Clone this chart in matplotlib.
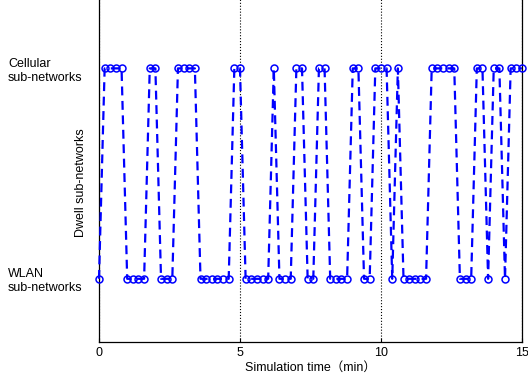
#!/usr/bin/env python3
# Filename: dwellPlot.py

##################
### Parameters ###
##################

outfile = "out.png"

## Sampling instants (min), one every 0.2 min
sim_time = [0.0, 0.2, 0.4, 0.6, 0.8, 1.0, 1.2, 1.4, 1.6, 1.8,
            2.0, 2.2, 2.4, 2.6, 2.8, 3.0, 3.2, 3.4, 3.6, 3.8,
            4.0, 4.2, 4.4, 4.6, 4.8, 5.0, 5.2, 5.4, 5.6, 5.8,
            6.0, 6.2, 6.4, 6.6, 6.8, 7.0, 7.2, 7.4, 7.6, 7.8,
            8.0, 8.2, 8.4, 8.6, 8.8, 9.0, 9.2, 9.4, 9.6, 9.8,
            10.0, 10.2, 10.4, 10.6, 10.8, 11.0, 11.2, 11.4, 11.6, 11.8,
            12.0, 12.2, 12.4, 12.6, 12.8, 13.0, 13.2, 13.4, 13.6, 13.8,
            14.0, 14.2, 14.4, 14.6, 14.8, 15.0]

## Sub-network the terminal dwells in (1 = WLAN, 2 = cellular)
dwell = [1,
         2, 2, 2, 2,
         1, 1, 1, 1,
         2, 2,
         1, 1, 1,
         2, 2, 2, 2,
         1, 1, 1, 1, 1, 1,
         2, 2,
         1, 1, 1, 1, 1,
         2,
         1, 1, 1,
         2, 2,
         1, 1,
         2, 2,
         1, 1, 1, 1,
         2, 2,
         1, 1,
         2, 2, 2,
         1,
         2,
         1, 1, 1, 1, 1,
         2, 2, 2, 2, 2,
         1, 1, 1,
         2, 2,
         1,
         2, 2,
         1,
         2, 2, 2]

level_ticks = [1, 2]
level_labels = ["WLAN\nsub-networks", "Cellular\nsub-networks"]
x_ticks = [0, 5, 10, 15]

##################
### Functions  ###
##################

import matplotlib
matplotlib.use("Agg")
import matplotlib.pyplot as plt

plt.rcParams["font.family"] = ["Liberation Sans", "Noto Sans CJK SC", "DejaVu Sans"]
plt.rcParams["font.size"] = 9


def plot_dwell(sim_time, dwell, outfile):
    fig = plt.figure(figsize=(5.28, 3.77), dpi=100)
    ax = fig.add_axes([0.1875, 0.093, 0.801, 0.921])

    ax.plot(sim_time, dwell, color="blue", linestyle="--", linewidth=1.6,
            dashes=(4, 2.5), marker="o", markersize=5,
            markerfacecolor="none", markeredgecolor="blue",
            markeredgewidth=1.1, clip_on=False, zorder=3)

    ## Axis ranges and ticks
    ax.set_xlim(0, 15)
    ax.set_ylim(0.7, 2.35)
    ax.set_xticks(x_ticks)
    ax.set_yticks(level_ticks, level_labels)
    for lab in ax.get_yticklabels():
        lab.set_horizontalalignment("left")
    ax.tick_params(axis="y", length=0, pad=65.5)
    ax.tick_params(axis="x", direction="in", length=3, pad=4)

    ## Dotted vertical grid only
    ax.grid(axis="x", linestyle=":", color="black", linewidth=0.8)
    ax.grid(axis="y", visible=False)

    for side in ax.spines.values():
        side.set_linewidth(0.9)

    ax.set_xlabel("Simulation time\uff08min\uff09", labelpad=2)
    ax.set_ylabel("Dwell sub-networks")
    ax.yaxis.set_label_coords(-0.028, 0.46)

    fig.savefig(outfile, dpi=100)
    plt.close(fig)


plot_dwell(sim_time, dwell, outfile)
